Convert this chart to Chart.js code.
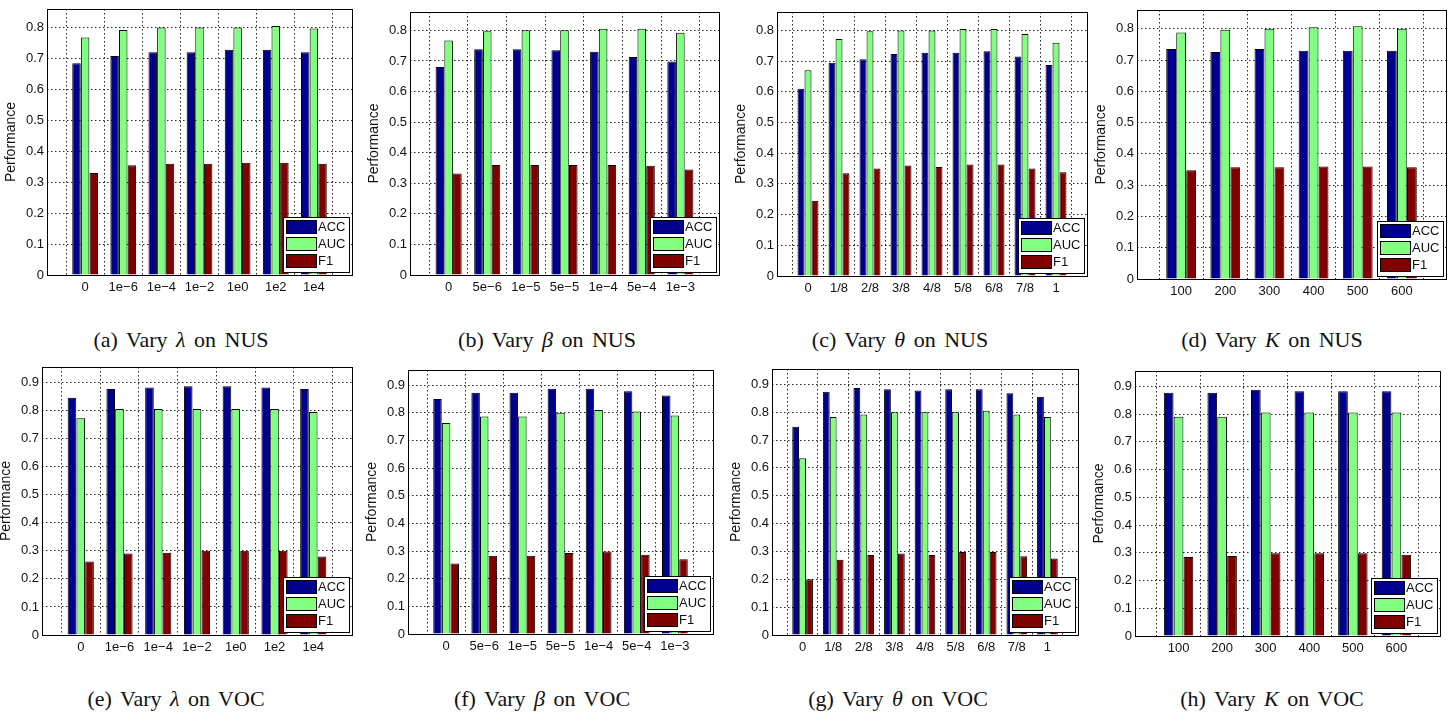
<!DOCTYPE html>
<html>
<head>
<meta charset="utf-8">
<script src="https://cdn.jsdelivr.net/npm/chart.js@4.4.0/dist/chart.umd.min.js"></script>
<style>
body { margin: 0; background: #fff; }
#fig { position: relative; width: 1451px; height: 715px; overflow: hidden; background: #fff; }
.panel { position: absolute; }
.cap {
  position: absolute;
  font-family: "Liberation Serif", "Times New Roman", serif;
  font-size: 22px;
  color: #111;
  white-space: nowrap;
  word-spacing: 3px;
  transform: translate(-50%, -50%);
}
</style>
</head>
<body>
<div id="fig">
  <div class="panel" id="pa"><canvas id="ca"></canvas></div>
  <div class="panel" id="pb"><canvas id="cb"></canvas></div>
  <div class="panel" id="pc"><canvas id="cc"></canvas></div>
  <div class="panel" id="pd"><canvas id="cd"></canvas></div>
  <div class="panel" id="pe"><canvas id="ce"></canvas></div>
  <div class="panel" id="pf"><canvas id="cf"></canvas></div>
  <div class="panel" id="pg"><canvas id="cg"></canvas></div>
  <div class="panel" id="ph"><canvas id="ch"></canvas></div>

  <div class="cap" style="left:181px;top:340px">(a) Vary <i>λ</i> on NUS</div>
  <div class="cap" style="left:547px;top:340px">(b) Vary <i>β</i> on NUS</div>
  <div class="cap" style="left:900px;top:340px">(c) Vary <i>θ</i> on NUS</div>
  <div class="cap" style="left:1272px;top:340px">(d) Vary <i>K</i> on NUS</div>
  <div class="cap" style="left:176px;top:699px">(e) Vary <i>λ</i> on VOC</div>
  <div class="cap" style="left:542px;top:699px">(f) Vary <i>β</i> on VOC</div>
  <div class="cap" style="left:898px;top:699px">(g) Vary <i>θ</i> on VOC</div>
  <div class="cap" style="left:1272px;top:699px">(h) Vary <i>K</i> on VOC</div>
</div>

<script>
// tick labels of the x axes
var lambdaTicks = ['0', '1e−6', '1e−4', '1e−2', '1e0', '1e2', '1e4'];
var betaTicks = ['0', '5e−6', '1e−5', '5e−5', '1e−4', '5e−4', '1e−3'];
var thetaTicks = ['0', '1/8', '2/8', '3/8', '4/8', '5/8', '6/8', '7/8', '1'];
var kTicks = ['100', '200', '300', '400', '500', '600'];
var seriesNames = ['ACC', 'AUC', 'F1'];

// NUS
var nusLambdaAcc = [0.685, 0.708, 0.720, 0.720, 0.728, 0.728, 0.720];
var nusLambdaAuc = [0.768, 0.792, 0.800, 0.800, 0.800, 0.805, 0.797];
var nusLambdaF1  = [0.330, 0.355, 0.360, 0.360, 0.363, 0.363, 0.360];

var nusBetaAcc = [0.680, 0.738, 0.738, 0.735, 0.730, 0.713, 0.698];
var nusBetaAuc = [0.767, 0.797, 0.800, 0.800, 0.805, 0.805, 0.792];
var nusBetaF1  = [0.332, 0.360, 0.360, 0.360, 0.360, 0.357, 0.345];

var nusThetaAcc = [0.610, 0.695, 0.706, 0.723, 0.727, 0.727, 0.732, 0.715, 0.687];
var nusThetaAuc = [0.670, 0.772, 0.797, 0.800, 0.800, 0.805, 0.805, 0.788, 0.760];
var nusThetaF1  = [0.245, 0.335, 0.350, 0.360, 0.355, 0.363, 0.363, 0.350, 0.338];

var nusKAcc = [0.735, 0.726, 0.735, 0.730, 0.730, 0.730];
var nusKAuc = [0.788, 0.797, 0.800, 0.805, 0.808, 0.800];
var nusKF1  = [0.348, 0.357, 0.357, 0.360, 0.360, 0.357];

// VOC
var vocLambdaAcc = [0.845, 0.877, 0.882, 0.886, 0.886, 0.882, 0.877];
var vocLambdaAuc = [0.772, 0.805, 0.805, 0.805, 0.805, 0.805, 0.795];
var vocLambdaF1  = [0.262, 0.290, 0.293, 0.300, 0.300, 0.300, 0.280];

var vocBetaAcc = [0.850, 0.873, 0.873, 0.887, 0.887, 0.878, 0.863];
var vocBetaAuc = [0.763, 0.787, 0.787, 0.800, 0.810, 0.805, 0.790];
var vocBetaF1  = [0.255, 0.283, 0.283, 0.293, 0.298, 0.287, 0.270];

var vocThetaAcc = [0.748, 0.873, 0.887, 0.882, 0.878, 0.882, 0.882, 0.868, 0.855];
var vocThetaAuc = [0.635, 0.783, 0.792, 0.800, 0.800, 0.800, 0.805, 0.792, 0.783];
var vocThetaF1  = [0.200, 0.270, 0.287, 0.293, 0.287, 0.298, 0.298, 0.283, 0.275];

var vocKAcc = [0.877, 0.877, 0.887, 0.882, 0.882, 0.882];
var vocKAuc = [0.790, 0.790, 0.805, 0.805, 0.805, 0.805];
var vocKF1  = [0.285, 0.288, 0.298, 0.298, 0.298, 0.293];

var nusMax = 0.86;
var vocMax = 0.955;

var seriesColors = ['#00008f', '#80ff80', '#800000'];

// space reserved around the plot box
var yAxisW = 47, xAxisH = 22, padTop = 8, padRight = 4;

// box around the plot, like matlab's "box on"
var frameBox = {
  id: 'frameBox',
  afterDatasetsDraw: function(chart) {
    var a = chart.chartArea, ctx = chart.ctx;
    ctx.save();
    ctx.strokeStyle = '#000';
    ctx.lineWidth = 1;
    ctx.strokeRect(Math.round(a.left) + 0.5, Math.round(a.top) + 0.5,
                   Math.round(a.right - a.left), Math.round(a.bottom - a.top));
    ctx.restore();
  }
};

// legend drawn inside the plot, bottom right corner
var insideLegend = {
  id: 'insideLegend',
  afterDraw: function(chart) {
    var a = chart.chartArea, ctx = chart.ctx;
    var ds = chart.data.datasets;
    var rowH = 17, boxW = 66, boxH = ds.length * rowH + 4;
    var x0 = Math.round(a.right - boxW - 3), y0 = Math.round(a.bottom - boxH - 3);
    ctx.save();
    ctx.fillStyle = '#fff';
    ctx.fillRect(x0, y0, boxW, boxH);
    ctx.strokeStyle = '#000';
    ctx.lineWidth = 1;
    ctx.strokeRect(x0 + 0.5, y0 + 0.5, boxW, boxH);
    ctx.font = '13px "Liberation Sans", Arial, sans-serif';
    ctx.textBaseline = 'middle';
    ds.forEach(function(d, i) {
      var py = y0 + 3 + i * rowH;
      ctx.fillStyle = d.backgroundColor;
      ctx.fillRect(x0 + 3, py, 30, 13);
      ctx.strokeRect(x0 + 3.5, py + 0.5, 30, 13);
      ctx.fillStyle = '#111';
      ctx.fillText(d.label, x0 + 35, py + 7.5);
    });
    ctx.restore();
  }
};

function noPadding(scale) {
  scale.paddingTop = 0;
  scale.paddingBottom = 0;
  scale.paddingLeft = 0;
  scale.paddingRight = 0;
}

function makePanel(id, box, ticks, acc, auc, f1, yMax) {
  var holder = document.getElementById('p' + id);
  holder.style.left = (box.L - yAxisW) + 'px';
  holder.style.top = (box.T - padTop) + 'px';
  holder.style.width = (box.R - box.L + yAxisW + padRight) + 'px';
  holder.style.height = (box.B - box.T + padTop + xAxisH) + 'px';

  var values = [acc, auc, f1];
  var datasets = seriesNames.map(function(name, s) {
    return {
      label: name,
      data: values[s].map(function(v, i) { return { x: i + 1, y: v }; }),
      backgroundColor: seriesColors[s],
      borderColor: '#000',
      borderWidth: 1,
      categoryPercentage: 0.68,
      barPercentage: 0.98
    };
  });

  new Chart(document.getElementById('c' + id), {
    type: 'bar',
    data: { datasets: datasets },
    plugins: [frameBox, insideLegend],
    options: {
      responsive: true,
      maintainAspectRatio: false,
      animation: false,
      layout: { padding: { left: 0, top: padTop, right: padRight, bottom: 0 } },
      plugins: { legend: { display: false }, tooltip: { enabled: false } },
      scales: {
        x: {
          type: 'linear',
          min: 0,
          max: ticks.length + 1,
          offset: false,
          afterFit: function(scale) { scale.height = xAxisH; noPadding(scale); },
          ticks: {
            stepSize: 1,
            autoSkip: false,
            maxRotation: 0,
            padding: 5,
            color: '#111',
            font: { family: '"Liberation Sans", Arial, sans-serif', size: 13 },
            callback: function(v) { return ticks[v - 1] || ''; }
          },
          grid: { color: '#222', lineWidth: 1, drawTicks: false },
          border: { display: false, dash: [1.5, 2.5] }
        },
        y: {
          min: 0,
          max: yMax,
          afterFit: function(scale) { scale.width = yAxisW; noPadding(scale); },
          ticks: {
            stepSize: 0.1,
            includeBounds: false,
            padding: 3,
            color: '#111',
            font: { family: '"Liberation Sans", Arial, sans-serif', size: 13 },
            callback: function(v) { return v === 0 ? '0' : v.toFixed(1); }
          },
          grid: { color: '#222', lineWidth: 1, drawTicks: false },
          border: { display: false, dash: [1.5, 2.5] },
          title: {
            display: true,
            text: 'Performance',
            color: '#111',
            padding: { top: 3, bottom: 0 },
            font: { family: '"Liberation Sans", Arial, sans-serif', size: 14 }
          }
        }
      }
    }
  });
}

makePanel('a', { L: 47, R: 352, T: 9, B: 275 }, lambdaTicks, nusLambdaAcc, nusLambdaAuc, nusLambdaF1, nusMax);
makePanel('b', { L: 410, R: 719, T: 12, B: 275 }, betaTicks, nusBetaAcc, nusBetaAuc, nusBetaF1, nusMax);
makePanel('c', { L: 777, R: 1087, T: 12, B: 276 }, thetaTicks, nusThetaAcc, nusThetaAuc, nusThetaF1, nusMax);
makePanel('d', { L: 1137, R: 1446, T: 10, B: 279 }, kTicks, nusKAcc, nusKAuc, nusKF1, nusMax);
makePanel('e', { L: 42, R: 352, T: 367, B: 635 }, lambdaTicks, vocLambdaAcc, vocLambdaAuc, vocLambdaF1, vocMax);
makePanel('f', { L: 408, R: 713, T: 370, B: 634 }, betaTicks, vocBetaAcc, vocBetaAuc, vocBetaF1, vocMax);
makePanel('g', { L: 772, R: 1078, T: 369, B: 635 }, thetaTicks, vocThetaAcc, vocThetaAuc, vocThetaF1, vocMax);
makePanel('h', { L: 1135, R: 1440, T: 371, B: 636 }, kTicks, vocKAcc, vocKAuc, vocKF1, vocMax);
</script>
</body>
</html>
